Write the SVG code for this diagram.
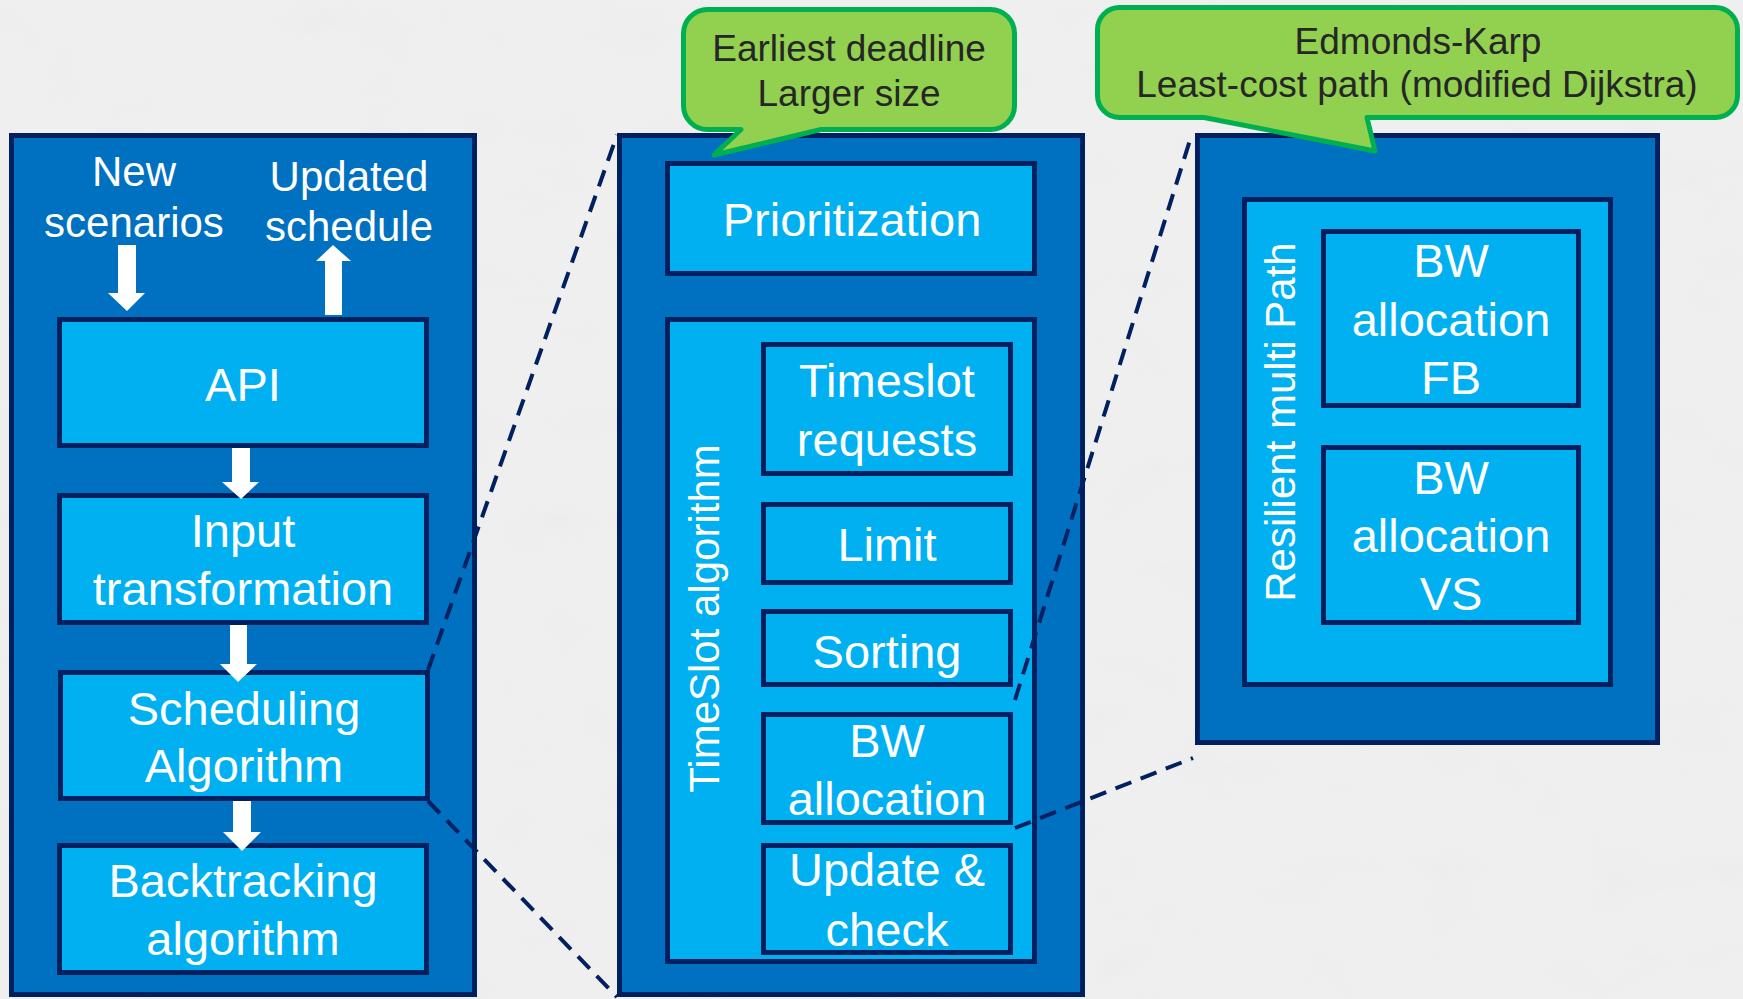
<svg xmlns="http://www.w3.org/2000/svg" width="1743" height="999" viewBox="0 0 1743 999">
  <defs>
    <filter id="paper" x="0" y="0" width="100%" height="100%">
      <feTurbulence type="fractalNoise" baseFrequency="0.012 0.02" numOctaves="4" seed="7" result="n"/>
      <feColorMatrix in="n" type="matrix" values="0 0 0 0 0.78  0 0 0 0 0.78  0 0 0 0 0.78  0 0 0 -1.2 0.55" result="tint"/>
      <feComposite in="tint" in2="SourceGraphic" operator="in"/>
    </filter>
  </defs>
  <style>
    .bg { fill: #efefef; }
    .panel { fill: #0070c0; stroke: #002060; stroke-width: 5; }
    .box { fill: #00b0f0; stroke: #002060; stroke-width: 5; }
    .callout { fill: #92d050; stroke: #00b050; stroke-width: 5; stroke-linejoin: round; }
    .t { font-family: "Liberation Sans", Arial, sans-serif; fill: #ffffff; text-anchor: middle; }
    .t42 { font-size: 42px; }
    .t47 { font-size: 47px; }
    .note { font-family: "Liberation Sans", Arial, sans-serif; font-size: 37px; fill: #262626; text-anchor: middle; }
    .zoom { fill: none; stroke: #002060; stroke-width: 4; stroke-dasharray: 17 10; }
    .flow { fill: #ffffff; }
  </style>

  <!-- paper background -->
  <rect class="bg" x="0" y="0" width="1743" height="999"/>
  <rect x="0" y="0" width="1743" height="999" fill="#ffffff" filter="url(#paper)" opacity="0.5"/>

  <!-- system overview panel -->
  <g id="system-panel">
    <rect class="panel" x="11.5" y="135.5" width="463" height="859"/>
    <text class="t t42" x="134" y="186">New</text>
    <text class="t t42" x="134" y="237">scenarios</text>
    <text class="t t42" x="349" y="191">Updated</text>
    <text class="t t42" x="349" y="241">schedule</text>
  </g>
  <g id="api">
    <rect class="box" x="59.5" y="319.5" width="367" height="126"/>
    <text class="t t47" x="243" y="401">API</text>
  </g>
  <g id="input-transformation">
    <rect class="box" x="59.5" y="495.5" width="367" height="127"/>
    <text class="t t47" x="243" y="547">Input</text>
    <text class="t t47" x="243" y="605">transformation</text>
  </g>
  <g id="scheduling-algorithm">
    <rect class="box" x="60.5" y="672.5" width="367" height="126"/>
    <text class="t t47" x="244" y="725">Scheduling</text>
    <text class="t t47" x="244" y="782">Algorithm</text>
  </g>
  <g id="backtracking-algorithm">
    <rect class="box" x="59.5" y="845.5" width="367" height="127"/>
    <text class="t t47" x="243" y="897">Backtracking</text>
    <text class="t t47" x="243" y="955">algorithm</text>
  </g>

  <!-- scheduling detail panel -->
  <g id="scheduling-panel">
    <rect class="panel" x="619.5" y="135.5" width="463" height="859"/>
  </g>
  <g id="prioritization">
    <rect class="box" x="667.5" y="163.5" width="367" height="110"/>
    <text class="t t47" x="852" y="236">Prioritization</text>
  </g>
  <g id="timeslot-algorithm">
    <rect class="box" x="667.5" y="319.5" width="367" height="642"/>
    <text class="t t42" x="719" y="618.5" transform="rotate(-90 719 618.5)">TimeSlot algorithm</text>
  </g>
  <g id="timeslot-requests">
    <rect class="box" x="763.5" y="344.5" width="247" height="129"/>
    <text class="t t47" x="887" y="397">Timeslot</text>
    <text class="t t47" x="887" y="456">requests</text>
  </g>
  <g id="limit">
    <rect class="box" x="763.5" y="504.5" width="247" height="78"/>
    <text class="t t47" x="887" y="561">Limit</text>
  </g>
  <g id="sorting">
    <rect class="box" x="763.5" y="611.5" width="247" height="73"/>
    <text class="t t47" x="887" y="668">Sorting</text>
  </g>
  <g id="bw-allocation">
    <rect class="box" x="763.5" y="714.5" width="247" height="108"/>
    <text class="t t47" x="887" y="757">BW</text>
    <text class="t t47" x="887" y="815">allocation</text>
  </g>
  <g id="update-check">
    <rect class="box" x="763.5" y="845.5" width="247" height="107"/>
    <text class="t t47" x="887" y="886">Update &amp;</text>
    <text class="t t47" x="887" y="946">check</text>
  </g>

  <!-- bandwidth allocation detail panel -->
  <g id="bandwidth-panel">
    <rect class="panel" x="1197.5" y="135.5" width="460" height="607"/>
  </g>
  <g id="resilient-multi-path">
    <rect class="box" x="1244.5" y="199.5" width="366" height="485"/>
    <text class="t t42" x="1295" y="422" transform="rotate(-90 1295 422)">Resilient multi Path</text>
  </g>
  <g id="bw-allocation-fb">
    <rect class="box" x="1323.5" y="231.5" width="255" height="174"/>
    <text class="t t47" x="1451" y="277">BW</text>
    <text class="t t47" x="1451" y="336">allocation</text>
    <text class="t t47" x="1451" y="394">FB</text>
  </g>
  <g id="bw-allocation-vs">
    <rect class="box" x="1323.5" y="447.5" width="255" height="175"/>
    <text class="t t47" x="1451" y="494">BW</text>
    <text class="t t47" x="1451" y="552">allocation</text>
    <text class="t t47" x="1451" y="610">VS</text>
  </g>

  <!-- speech-bubble notes -->
  <g id="note-prioritization">
    <path class="callout" d="M707.5,9.5 H990.5 A24,24 0 0 1 1014.5,33.5 V105.5 A24,24 0 0 1 990.5,129.5 H821 L714,155 L741,129.5 H707.5 A24,24 0 0 1 683.5,105.5 V33.5 A24,24 0 0 1 707.5,9.5 Z"/>
    <text class="note" x="849" y="61">Earliest deadline</text>
    <text class="note" x="849" y="106">Larger size</text>
  </g>
  <g id="note-bandwidth">
    <path class="callout" d="M1119.5,7.5 H1715.5 A22,22 0 0 1 1737.5,29.5 V95.5 A22,22 0 0 1 1715.5,117.5 H1367 L1375,151 L1204,117.5 H1119.5 A22,22 0 0 1 1097.5,95.5 V29.5 A22,22 0 0 1 1119.5,7.5 Z"/>
    <text class="note" x="1418" y="54">Edmonds-Karp</text>
    <text class="note" x="1417" y="97">Least-cost path (modified Dijkstra)</text>
  </g>

  <!-- connectors: flow arrows and zoom-in guides -->
  <g id="connectors">
    <polygon class="flow" points="118,245 136,245 136,293 145,293 127,311 108,293 118,293"/>
    <polygon class="flow" points="333,245 351,261 342,261 342,315 325,315 325,261 316,261"/>
    <polygon class="flow" points="232,448 250,448 250,482 259,482 241,499 222,482 232,482"/>
    <polygon class="flow" points="230,625 247,625 247,664 257,664 238,682 220,664 230,664"/>
    <polygon class="flow" points="233,801 251,801 251,832 261,832 242,851 223,832 233,832"/>
    <line class="zoom" x1="428" y1="670" x2="617" y2="135"/>
    <line class="zoom" x1="428" y1="801" x2="617" y2="997"/>
    <line class="zoom" x1="1015" y1="700" x2="1190" y2="140"/>
    <line class="zoom" x1="1015" y1="828" x2="1193" y2="758"/>
  </g>
</svg>
